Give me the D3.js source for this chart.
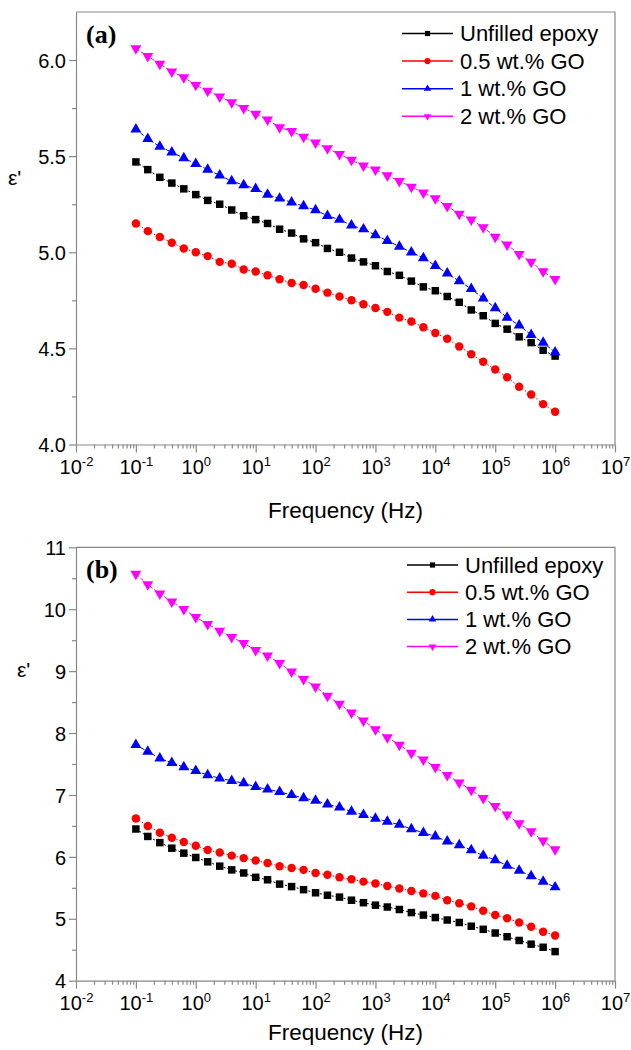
<!DOCTYPE html>
<html>
<head>
<meta charset="utf-8">
<script src="https://cdn.jsdelivr.net/npm/d3@7"></script>
<style>
  body { margin: 0; background: #fff; }
  svg { display: block; }
</style>
</head>
<body>
<script>
// frequency points (Hz), 5 per decade
var freq = [0.1, 0.158, 0.251, 0.398, 0.631,
            1, 1.58, 2.51, 3.98, 6.31,
            10, 15.8, 25.1, 39.8, 63.1,
            100, 158, 251, 398, 631,
            1000, 1580, 2510, 3980, 6310,
            1e4, 1.58e4, 2.51e4, 3.98e4, 6.31e4,
            1e5, 1.58e5, 2.51e5, 3.98e5, 6.31e5,
            1e6];

var seriesNames = ["Unfilled epoxy", "0.5 wt.% GO", "1 wt.% GO", "2 wt.% GO"];
var seriesColors = ["#000000", "#ff0000", "#0000ff", "#ff00ff"];

// panel (a)
var a_unfilled = [5.47, 5.43, 5.39, 5.36, 5.33, 5.30, 5.27, 5.25, 5.22, 5.19, 5.17, 5.15,
                  5.12, 5.10, 5.07, 5.05, 5.02, 5.00, 4.97, 4.95, 4.93, 4.90, 4.88, 4.85,
                  4.82, 4.80, 4.77, 4.74, 4.70, 4.67, 4.63, 4.60, 4.56, 4.53, 4.49, 4.46];
var a_go05 = [5.15, 5.11, 5.08, 5.05, 5.02, 5.00, 4.98, 4.95, 4.94, 4.91, 4.90, 4.88,
              4.86, 4.84, 4.83, 4.81, 4.79, 4.77, 4.75, 4.73, 4.71, 4.69, 4.66, 4.64,
              4.61, 4.58, 4.55, 4.51, 4.47, 4.43, 4.39, 4.35, 4.30, 4.26, 4.21, 4.17];
var a_go1 = [5.64, 5.59, 5.55, 5.52, 5.49, 5.46, 5.43, 5.40, 5.37, 5.35, 5.33, 5.30,
             5.28, 5.26, 5.24, 5.22, 5.19, 5.17, 5.14, 5.12, 5.09, 5.06, 5.03, 5.00,
             4.97, 4.93, 4.89, 4.85, 4.81, 4.76, 4.71, 4.66, 4.62, 4.57, 4.53, 4.48];
var a_go2 = [6.06, 6.02, 5.98, 5.94, 5.91, 5.87, 5.84, 5.81, 5.78, 5.75, 5.72, 5.69,
             5.65, 5.63, 5.60, 5.57, 5.54, 5.51, 5.48, 5.45, 5.43, 5.40, 5.37, 5.34,
             5.31, 5.28, 5.24, 5.20, 5.17, 5.13, 5.08, 5.04, 4.99, 4.95, 4.90, 4.86];

// panel (b)
var b_unfilled = [6.45, 6.33, 6.23, 6.14, 6.06, 5.99, 5.92, 5.85, 5.79, 5.74, 5.67, 5.63,
                  5.56, 5.52, 5.47, 5.42, 5.38, 5.35, 5.30, 5.26, 5.22, 5.19, 5.15, 5.10,
                  5.06, 5.02, 4.98, 4.94, 4.88, 4.83, 4.77, 4.71, 4.65, 4.59, 4.54, 4.47];
var b_go05 = [6.62, 6.50, 6.39, 6.31, 6.24, 6.18, 6.11, 6.07, 6.02, 5.98, 5.94, 5.90,
              5.85, 5.82, 5.79, 5.74, 5.71, 5.67, 5.64, 5.60, 5.57, 5.53, 5.49, 5.45,
              5.41, 5.37, 5.30, 5.25, 5.20, 5.13, 5.06, 5.01, 4.94, 4.87, 4.79, 4.73];
var b_go1 = [7.81, 7.70, 7.59, 7.52, 7.45, 7.39, 7.32, 7.27, 7.23, 7.19, 7.13, 7.09,
             7.05, 7.00, 6.95, 6.91, 6.85, 6.80, 6.73, 6.68, 6.62, 6.57, 6.52, 6.45,
             6.39, 6.33, 6.25, 6.19, 6.11, 6.02, 5.95, 5.86, 5.78, 5.69, 5.60, 5.51];
var b_go2 = [10.57, 10.40, 10.25, 10.12, 10.00, 9.87, 9.76, 9.65, 9.55, 9.45, 9.34, 9.25,
             9.13, 8.99, 8.87, 8.75, 8.60, 8.47, 8.33, 8.20, 8.06, 7.93, 7.81, 7.68,
             7.57, 7.45, 7.32, 7.20, 7.08, 6.95, 6.82, 6.68, 6.54, 6.41, 6.26, 6.12];

var xTickExps = [-2, -1, 0, 1, 2, 3, 4, 5, 6, 7];
var yTicksA = [4.0, 4.5, 5.0, 5.5, 6.0];
var yTicksB = [4, 5, 6, 7, 8, 9, 10, 11];

var w = 631;
var h = 1050;
var axisColor = "#888888";
var font = "'Liberation Sans', Arial, sans-serif";

var svg = d3.select("body")
    .append("svg")
    .attr("width", w)
    .attr("height", h);

var symbols = [d3.symbolSquare, d3.symbolCircle, d3.symbolTriangle, d3.symbolTriangle];
var symSize = [56, 56, 52, 52];
var legSize = [27, 30, 24, 24];
var rot = [0, 0, 0, 180];
var dashes = ["2,2", "1.5,2", "4,2", "4,2"];

var xMajors = xTickExps.map(function(e) { return Math.pow(10, e); });
var xMinors = [];
xTickExps.slice(0, -1).forEach(function(e) {
    for (var k = 2; k <= 9; k++) xMinors.push(k * Math.pow(10, e));
});

function drawPanel(p) {
    var x = d3.scaleLog().domain([1e-2, 1e7]).range([76, 615]);
    var y = d3.scaleLinear().domain(p.yDomain).range([p.bottom, p.top]);
    var g = svg.append("g");

    // frame (top and right)
    g.append("path")
        .attr("d", "M76," + p.top + "H615V" + p.bottom)
        .attr("fill", "none")
        .attr("stroke", axisColor)
        .attr("stroke-width", 1.2);

    // x axis
    var xAx = g.append("g")
        .attr("transform", "translate(0," + p.bottom + ")")
        .call(d3.axisBottom(x).tickValues(xMajors).tickSize(8).tickSizeOuter(0)
            .tickFormat(function() { return ""; }));
    var xMin = g.append("g")
        .attr("transform", "translate(0," + p.bottom + ")")
        .call(d3.axisBottom(x).tickValues(xMinors).tickSize(4).tickSizeOuter(0)
            .tickFormat(function() { return ""; }));
    xMin.select(".domain").remove();

    xAx.selectAll(".tick text").each(function(d) {
        var t = d3.select(this)
            .attr("y", 29)
            .attr("dy", null)
            .attr("fill", "#000")
            .style("font-family", font)
            .style("font-size", "20px");
        t.append("tspan").text("10");
        t.append("tspan")
            .attr("dy", -8)
            .style("font-size", "13px")
            .text(Math.round(Math.log10(d)));
    });

    // y axis
    var yAx = g.append("g")
        .attr("transform", "translate(76,0)")
        .call(d3.axisLeft(y).tickValues(p.yTicks).tickSize(7).tickSizeOuter(0)
            .tickPadding(3).tickFormat(p.yFormat));
    var yMin = g.append("g")
        .attr("transform", "translate(76,0)")
        .call(d3.axisLeft(y).tickValues(p.yMinor).tickSize(4).tickSizeOuter(0)
            .tickFormat(function() { return ""; }));
    yMin.select(".domain").remove();

    yAx.selectAll(".tick text")
        .attr("fill", "#000")
        .attr("dy", "0.36em")
        .style("font-family", font)
        .style("font-size", "20px");

    [xAx, xMin, yAx, yMin].forEach(function(a) {
        a.selectAll("line").attr("stroke", axisColor).attr("stroke-width", 1.2);
        a.selectAll(".domain").attr("stroke", axisColor).attr("stroke-width", 1.2);
    });

    // series
    p.series.forEach(function(vals, si) {
        var pts = freq.map(function(f, i) { return [f, vals[i]]; });
        g.append("path")
            .datum(pts)
            .attr("fill", "none")
            .attr("stroke", seriesColors[si])
            .attr("stroke-width", 1)
            .attr("stroke-dasharray", dashes[si])
            .attr("d", d3.line()
                .x(function(d) { return x(d[0]); })
                .y(function(d) { return y(d[1]); }));
        g.selectAll(".m" + si)
            .data(pts)
            .enter()
            .append("path")
            .attr("d", d3.symbol().type(symbols[si]).size(symSize[si]))
            .attr("transform", function(d) {
                return "translate(" + x(d[0]) + "," + y(d[1]) + ") rotate(" + rot[si] + ")";
            })
            .attr("fill", seriesColors[si]);
    });

    // legend
    seriesNames.forEach(function(name, si) {
        var cy = p.legY + si * p.legStep;
        g.append("line")
            .attr("x1", p.legX).attr("x2", p.legX + 51)
            .attr("y1", cy).attr("y2", cy)
            .attr("stroke", seriesColors[si])
            .attr("stroke-width", 1.5);
        g.append("path")
            .attr("d", d3.symbol().type(symbols[si]).size(legSize[si]))
            .attr("transform", "translate(" + (p.legX + 25.5) + "," + cy + ") rotate(" + rot[si] + ")")
            .attr("fill", seriesColors[si]);
        g.append("text")
            .attr("x", p.legX + 58)
            .attr("y", cy + 7.5)
            .style("font-family", font)
            .style("font-size", "22px")
            .text(name);
    });

    // panel tag
    g.append("text")
        .attr("x", 86)
        .attr("y", p.top + 31)
        .style("font-family", "'Liberation Serif', 'Times New Roman', serif")
        .style("font-weight", "bold")
        .style("font-size", "26px")
        .text(p.tag);

    // y label
    g.append("text")
        .attr("x", p.yLabX)
        .attr("y", p.yLabY)
        .style("font-family", font)
        .style("font-size", "21px")
        .text("ε'");

    // x label
    g.append("text")
        .attr("text-anchor", "middle")
        .attr("x", 345.5)
        .attr("y", p.xLabY)
        .style("font-family", font)
        .style("font-size", "22.5px")
        .text("Frequency (Hz)");
}

drawPanel({
    tag: "(a)",
    top: 12, bottom: 444.5,
    yDomain: [4, 6.25],
    yTicks: yTicksA,
    yMinor: [4.25, 4.75, 5.25, 5.75],
    yFormat: d3.format(".1f"),
    series: [a_unfilled, a_go05, a_go1, a_go2],
    legX: 402, legY: 33.5, legStep: 27.6,
    yLabX: 8, yLabY: 185,
    xLabY: 518
});

drawPanel({
    tag: "(b)",
    top: 547.3, bottom: 980.7,
    yDomain: [4, 11],
    yTicks: yTicksB,
    yMinor: [4.5, 5.5, 6.5, 7.5, 8.5, 9.5, 10.5],
    yFormat: d3.format("d"),
    series: [b_unfilled, b_go05, b_go1, b_go2],
    legX: 407, legY: 565, legStep: 27.2,
    yLabX: 17, yLabY: 677,
    xLabY: 1040
});
</script>
</body>
</html>
